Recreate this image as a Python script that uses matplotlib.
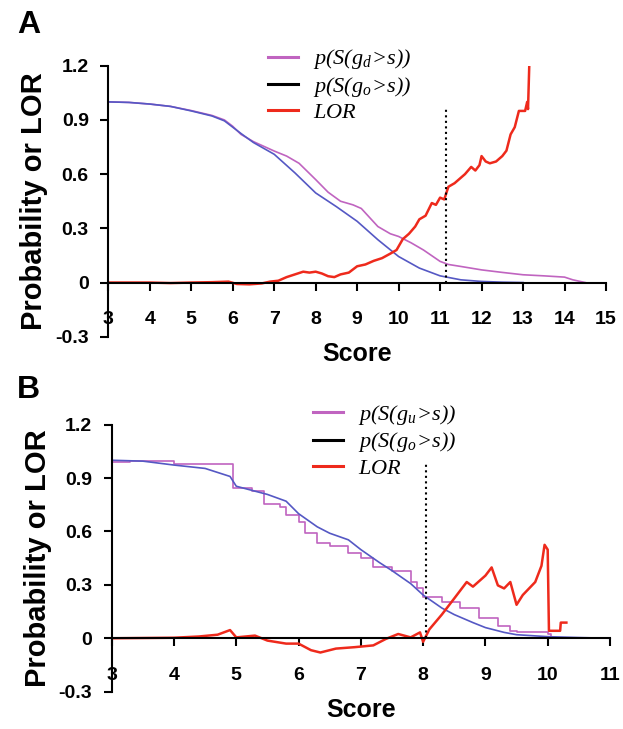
import matplotlib
matplotlib.use('Agg')
import matplotlib.pyplot as plt
from matplotlib.lines import Line2D

plt.rcParams['font.family'] = ['Liberation Sans', 'DejaVu Sans']
plt.rcParams['font.weight'] = 'bold'
plt.rcParams['mathtext.fontset'] = 'custom'
plt.rcParams['mathtext.rm'] = 'Liberation Serif:style=italic:weight=normal'
plt.rcParams['mathtext.it'] = 'Liberation Serif:style=italic:weight=normal'

# panel A data
a_go_x = [3, 3.5, 4, 4.5, 5, 5.5, 5.8, 6, 6.2, 6.5, 7, 7.5, 8, 8.5, 9, 9.5, 10, 10.5, 11, 11.5, 12, 12.5, 13]
a_go_y = [1.0, 0.997, 0.988, 0.975, 0.95, 0.922, 0.895, 0.86, 0.825, 0.775, 0.71, 0.607, 0.496, 0.42, 0.339, 0.237, 0.144, 0.08, 0.037, 0.015, 0.006, 0.002, 0.0]

a_gd_x = [3, 3.5, 4, 4.5, 5, 5.5, 5.8, 6, 6.2, 6.5, 7, 7.3, 7.6, 8, 8.3, 8.6, 8.9, 9.1, 9.3, 9.5, 9.8, 10, 10.3, 10.6, 11, 11.2, 11.5, 12, 12.5, 13, 13.5, 14, 14.2, 14.5]
a_gd_y = [1.0, 0.997, 0.988, 0.975, 0.952, 0.925, 0.9, 0.865, 0.82, 0.78, 0.728, 0.7, 0.66, 0.57, 0.5, 0.45, 0.43, 0.41, 0.36, 0.31, 0.27, 0.255, 0.22, 0.18, 0.117, 0.1, 0.089, 0.07, 0.056, 0.043, 0.037, 0.03, 0.015, 0.0]

a_lor_x = [3, 3.5, 4, 4.5, 5, 5.5, 5.9, 6.1, 6.4, 6.7, 6.9, 7.1, 7.3, 7.5, 7.7, 7.85, 8.0, 8.15, 8.3, 8.45,
           8.6, 8.8, 9.0, 9.2, 9.4, 9.6, 9.8, 9.95, 10.1, 10.25, 10.4, 10.5, 10.65, 10.8, 10.9, 11.0, 11.1,
           11.2, 11.35, 11.5, 11.6, 11.75, 11.85, 11.95, 12.0, 12.1, 12.2, 12.35, 12.5, 12.6, 12.7, 12.8,
           12.9, 13.05, 13.1, 13.12, 13.15]
a_lor_y = [0, 0, 0, -0.003, 0, 0.002, 0.005, -0.008, -0.01, -0.005, 0.005, 0.01, 0.03, 0.045, 0.06, 0.055,
           0.06, 0.05, 0.035, 0.03, 0.045, 0.055, 0.09, 0.1, 0.12, 0.135, 0.16, 0.18, 0.24, 0.27, 0.31, 0.35,
           0.37, 0.44, 0.43, 0.47, 0.46, 0.53, 0.55, 0.58, 0.6, 0.64, 0.62, 0.65, 0.7, 0.67, 0.66, 0.67, 0.7,
           0.73, 0.82, 0.86, 0.95, 0.95, 1.0, 0.96, 1.2]
a_cut = 11.15

# panel B data
b_go_x = [3, 3.5, 4, 4.5, 4.9, 5, 5.5, 5.8, 6, 6.3, 6.5, 6.8, 7, 7.3, 7.5, 7.8, 8, 8.3, 8.5, 8.8, 9, 9.3, 9.5, 10, 10.5, 11]
b_go_y = [1.0, 0.995, 0.973, 0.954, 0.909, 0.854, 0.808, 0.77, 0.7, 0.626, 0.59, 0.553, 0.498, 0.425, 0.38, 0.307,
          0.243, 0.17, 0.133, 0.088, 0.06, 0.033, 0.02, 0.009, 0.004, 0.0]

b_gu_x = [3, 3.3, 4, 4.95, 5.25, 5.45, 5.7, 5.8, 6, 6.1, 6.3, 6.5, 6.8, 7, 7.2, 7.5, 7.8, 7.9, 8.0, 8.3, 8.6, 8.9, 9.2, 9.4, 9.5, 10.0, 10.05]
b_gu_y = [0.99, 0.996, 0.98, 0.845, 0.827, 0.754, 0.735, 0.69, 0.653, 0.59, 0.535, 0.516, 0.48, 0.453, 0.398, 0.38,
          0.316, 0.28, 0.234, 0.206, 0.17, 0.115, 0.069, 0.042, 0.033, 0.024, 0.0]

b_lor_x = [3, 4, 4.4, 4.7, 4.9, 5.0, 5.3, 5.5, 5.8, 6.0, 6.2, 6.35, 6.6, 6.9, 7.2, 7.4, 7.6, 7.8, 7.95, 8.0,
           8.1, 8.3, 8.5, 8.7, 8.8, 9.0, 9.1, 9.2, 9.3, 9.4, 9.5, 9.6, 9.8, 9.9, 9.95, 10.0, 10.02, 10.2, 10.21, 10.3]
b_lor_y = [0, 0.003, 0.01, 0.02, 0.046, 0.005, 0.015, -0.013, -0.03, -0.03, -0.067, -0.08, -0.058, -0.05, -0.04,
           -0.004, 0.024, 0.005, 0.033, -0.02, 0.05, 0.133, 0.224, 0.316, 0.29, 0.352, 0.398, 0.297, 0.28, 0.316,
           0.188, 0.243, 0.316, 0.407, 0.525, 0.498, 0.042, 0.042, 0.088, 0.088]
b_cut = 8.05

yticks = [-0.3, 0, 0.3, 0.6, 0.9, 1.2]
yticklabels = ['-0.3', '0', '0.3', '0.6', '0.9', '1.2']

c_mag = '#c064c0'
c_blue = '#5558c4'
c_red = '#ee2a1c'

fig = plt.figure(figsize=(6.23, 7.29), dpi=100)
axA = fig.add_axes([0.1738, 0.5381, 0.7989, 0.3717])
axB = fig.add_axes([0.1793, 0.0512, 0.7998, 0.3663])


def style(ax, xmax):
    ax.set_xlim(3, xmax)
    ax.set_ylim(-0.3, 1.2)
    ax.spines['top'].set_visible(False)
    ax.spines['right'].set_visible(False)
    ax.spines['bottom'].set_position(('data', 0))
    ax.spines['left'].set_linewidth(1.5)
    ax.spines['bottom'].set_linewidth(1.5)
    ax.set_xticks(range(3, xmax + 1))
    ax.set_yticks(yticks)
    ax.set_yticklabels(yticklabels)
    ax.tick_params(axis='x', direction='out', length=5.5, width=1.5, pad=15, labelsize=14)
    ax.tick_params(axis='y', direction='out', length=6, width=1.5, pad=8, labelsize=14)
    ax.set_xlabel('Score', fontsize=18, fontweight='bold', labelpad=10)
    ax.set_ylabel('Probability or LOR', fontsize=21, fontweight='bold', labelpad=5)


def legend(ax, sub, x, y):
    handles = [Line2D([], [], color=c_mag, lw=2.2),
               Line2D([], [], color='black', lw=2.2),
               Line2D([], [], color=c_red, lw=2.2)]
    labels = [r'$p(S(g_%s\!>\!s))$' % sub, r'$p(S(g_o\!>\!s))$', r'$LOR$']
    ax.legend(handles, labels, loc='upper left', bbox_to_anchor=(x, y), bbox_transform=fig.transFigure,
              frameon=False, fontsize=16, handlelength=1.35, handletextpad=0.68, labelspacing=0.15,
              borderpad=0, borderaxespad=0)


# panel A
axA.plot(a_gd_x, a_gd_y, color=c_mag, lw=1.2)
axA.plot(a_go_x, a_go_y, color=c_blue, lw=1.2)
axA.plot(a_lor_x, a_lor_y, color=c_red, lw=1.8)
axA.plot([a_cut, a_cut], [0, 0.96], color='black', ls=':', lw=1.5)
style(axA, 15)
legend(axA, 'd', 0.430, 0.935)

# panel B
axB.plot(b_gu_x, b_gu_y, color=c_mag, lw=1.2, drawstyle='steps-post')
axB.plot(b_go_x, b_go_y, color=c_blue, lw=1.2)
axB.plot(b_lor_x, b_lor_y, color=c_red, lw=1.8)
axB.plot([b_cut, b_cut], [0, 0.98], color='black', ls=':', lw=1.5)
style(axB, 11)
legend(axB, 'u', 0.502, 0.447)

fig.text(0.027, 0.986, 'A', fontsize=23, fontweight='bold', va='top')
fig.text(0.027, 0.486, 'B', fontsize=23, fontweight='bold', va='top')

fig.savefig('out.png', dpi=100)
